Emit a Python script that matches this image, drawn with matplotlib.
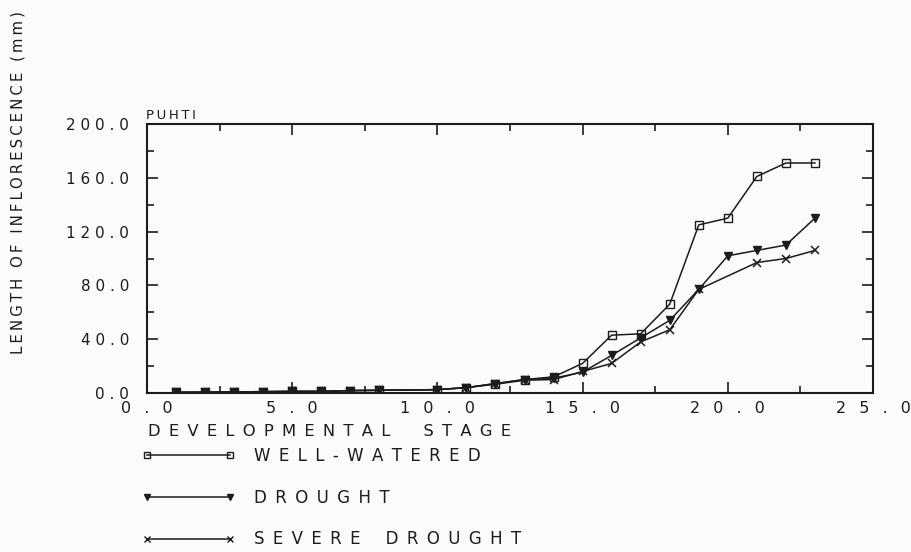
import numpy as np
import matplotlib
matplotlib.use('Agg')
import matplotlib.pyplot as plt
from matplotlib.ticker import MultipleLocator, FuncFormatter
from matplotlib.lines import Line2D

# developmental stages (no stage 9 recorded)
stages = [1, 2, 3, 4, 5, 6, 7, 8, 10, 11, 12, 13, 14, 15, 16, 17, 18, 19, 20, 21, 22, 23]
well_watered = [0.5, 0.6, 0.8, 1.0, 1.2, 1.2, 1.8, 2.0, 2.5, 4, 7, 10, 12, 22, 43, 44, 66, 125, 130, 161, 171, 171]
drought = [0.5, 0.6, 0.8, 1.0, 1.2, 1.2, 1.8, 2.0, 2.5, 4, 7, 10, 11, 15.5, 28, 41, 54, 77, 102, 106, 110, 130]
# severe drought has no point at stage 20
stages_severe = [1, 2, 3, 4, 5, 6, 7, 8, 10, 11, 12, 13, 14, 15, 16, 17, 18, 19, 21, 22, 23]
severe_drought = [0.5, 0.6, 0.8, 1.0, 1.2, 1.2, 1.8, 2.0, 2.5, 4, 6.5, 9.5, 10, 16, 22, 38, 47, 77, 97, 100, 106]

series_names = ['WELL-WATERED', 'DROUGHT', 'SEVERE DROUGHT']

ink = '#1c1c1c'
font = 'DejaVu Sans'
EN = '\u2002'
THIN = '\u2009'


def spaced(s, sep=' ', word=None):
    # old plotter fonts are widely letter-spaced
    if word is None:
        word = sep
    return word.join(sep.join(list(w)) for w in s.split(' '))


fig = plt.figure(figsize=(9.11, 5.52), dpi=100)
fig.patch.set_facecolor('#fbfbfb')
ax = fig.add_axes([147 / 911, 1 - 393 / 552, 726 / 911, 269 / 552])
ax.set_facecolor('#fbfbfb')

lw = 1.1
ax.plot(stages, well_watered, color=ink, lw=lw, marker='s', ms=5.5,
        mfc='none', mec=ink, mew=1.0)
ax.plot(stages, drought, color=ink, lw=lw, marker='v', ms=6, mfc=ink, mec=ink)
ax.plot(stages_severe, severe_drought, color=ink, lw=lw, marker='x', ms=6, mew=1.1, mec=ink)

ax.set_xlim(0, 25)
ax.set_ylim(0, 200)
ax.xaxis.set_major_locator(MultipleLocator(5))
ax.xaxis.set_minor_locator(MultipleLocator(2.5))
ax.yaxis.set_major_locator(MultipleLocator(40))
ax.yaxis.set_minor_locator(MultipleLocator(20))

ax.xaxis.set_major_formatter(FuncFormatter(lambda v, p: spaced('%.1f' % v, EN + ' ')))
ax.yaxis.set_major_formatter(FuncFormatter(lambda v, p: spaced('%.1f' % v, ' ')))

ax.tick_params(which='both', direction='in', top=True, right=True, color=ink, width=1.2)
ax.tick_params(which='major', length=8)
ax.tick_params(which='minor', length=5)
ax.tick_params(axis='x', which='major', pad=6, labelsize=11.5, labelcolor=ink)
ax.tick_params(axis='y', which='major', pad=13, labelsize=11, labelcolor=ink)
for sp in ax.spines.values():
    sp.set_linewidth(1.5)
    sp.set_color(ink)

ax.text(-0.002, 1.006, spaced('PUHTI', THIN), transform=ax.transAxes, fontsize=9.5,
        color=ink, ha='left', va='bottom', family=font)

fig.text(18 / 911, 1 - 183 / 552, spaced('LENGTH OF INFLORESCENCE (mm)', THIN, THIN + ' ' + THIN),
         rotation=90, fontsize=10.8, color=ink, ha='center', va='center', family=font)

fig.text(148 / 911, 1 - 432 / 552, spaced('DEVELOPMENTAL STAGE', EN, EN * 4), fontsize=11.8,
         color=ink, ha='left', va='center', family=font)

handles = [
    Line2D([], [], color=ink, lw=lw, marker='s', ms=4, mfc='none', mec=ink),
    Line2D([], [], color=ink, lw=lw, marker='v', ms=5, mfc=ink, mec=ink),
    Line2D([], [], color=ink, lw=lw, marker='x', ms=5, mec=ink),
]
leg = fig.legend(handles, [spaced(n, EN, EN * 3) for n in series_names], loc='upper left',
                 bbox_to_anchor=(127 / 911, 1 - 432 / 552), frameon=False,
                 numpoints=2, handlelength=5.6, handletextpad=1.1,
                 labelspacing=1.42, prop={'family': font, 'size': 12})
for t in leg.get_texts():
    t.set_color(ink)

fig.savefig('out.png', dpi=100, facecolor=fig.get_facecolor())
